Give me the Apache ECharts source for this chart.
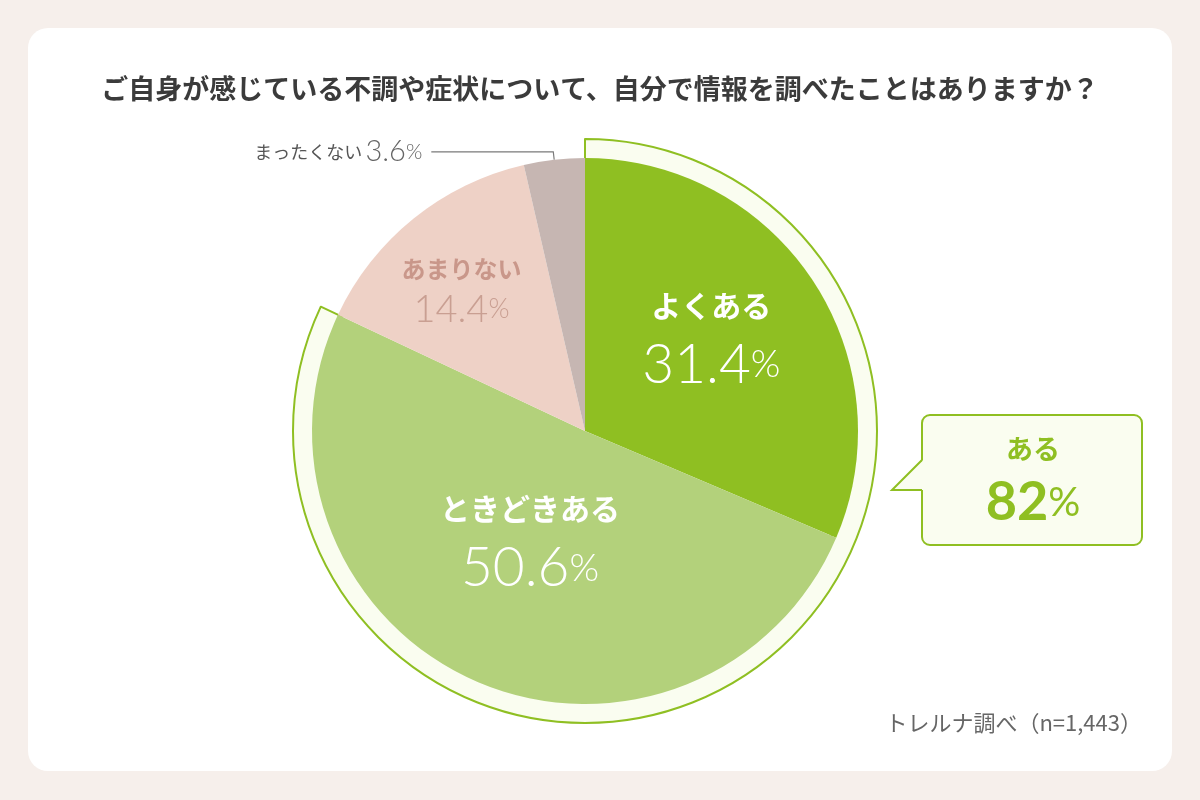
<!DOCTYPE html>
<html>
<head>
<meta charset="utf-8">
<title>情報を調べたことはありますか</title>
<script src="https://cdn.jsdelivr.net/npm/echarts@6/dist/echarts.min.js"></script>
<style>
  html, body { margin: 0; padding: 0; background: #f6efeb; }
  #chart { width: 1200px; height: 800px; }
</style>
</head>
<body>
<div id="chart"></div>
<script>
// 設問・データ
var questionText = 'ご自身が感じている不調や症状について、自分で情報を調べたことはありますか？';
var categories = ['よくある', 'ときどきある', 'あまりない', 'まったくない'];
var shares = [31.4, 50.6, 14.4, 3.6];
var haveIndexes = [0, 1];           // 「ある」にまとめる回答
var haveLabel = 'ある';
var sourceNote = 'トレルナ調べ（n=1,443）';

var sliceColors = ['#8fbf22', '#b3d17b', '#eed1c6', '#c6b6b2'];
var green = '#8fbf22';
var paleGreen = '#fafdf0';
var cjk = '"Noto Sans CJK JP", "Noto Sans", sans-serif';
var numFont = 'Lato, "Noto Sans", sans-serif';

var center = [585, 431];
var pieR = 273;

// ラベルの微調整 (dx, dy)
var labelNudge = [[10, -21], [2, -22], [-36, -35], [0, 0]];

var haveTotal = 0;
haveIndexes.forEach(function (i) { haveTotal += shares[i]; });
haveTotal = Math.round(haveTotal * 10) / 10;

var pieData = categories.map(function (name, i) {
    var item = { name: name, value: shares[i], itemStyle: { color: sliceColors[i] } };
    if (i === 2) {
        item.label = {
            rich: {
                n: { fontFamily: cjk, fontSize: 24, fontWeight: 'bold', color: '#c9978a', lineHeight: 44, align: 'center' },
                v: { fontFamily: numFont, fontSize: 38, fontWeight: 300, color: '#c99f92' },
                p: { fontFamily: numFont, fontSize: 27, fontWeight: 300, color: '#c99f92' }
            }
        };
    }
    if (i === 3) {
        item.label = {
            position: 'outside',
            distanceToLabelLine: 9,
            fontWeight: 'normal',
            formatter: function (p) { return '{n|' + p.name + '} {v|' + p.value + '}{p|%}'; },
            rich: {
                n: { fontFamily: cjk, fontSize: 18, fontWeight: 'normal', color: '#555' },
                v: { fontFamily: numFont, fontSize: 29, fontWeight: 300, color: '#666' },
                p: { fontFamily: numFont, fontSize: 21, fontWeight: 300, color: '#666' }
            }
        };
        item.labelLine = { show: true, length: 8, length2: 122, smooth: false,
            lineStyle: { color: '#7a7a7a', width: 1.2 } };
    }
    return item;
});

var chart = echarts.init(document.getElementById('chart'));

chart.setOption({
    backgroundColor: '#f6efeb',
    animation: false,
    title: [{
        text: questionText,
        left: 'center',
        top: 75,
        padding: 0,
        textStyle: { fontFamily: cjk, fontSize: 27, fontWeight: 'bold', color: '#3b3b3b' }
    }, {
        text: sourceNote,
        right: 58,
        top: 712,
        padding: 0,
        textStyle: { fontFamily: cjk, fontSize: 22, fontWeight: 'normal', color: '#666' }
    }],
    graphic: [{
        type: 'rect',
        z: -10,
        shape: { x: 28, y: 28, width: 1144, height: 743, r: 20 },
        style: { fill: '#ffffff' }
    }, {
        // 吹き出し
        type: 'rect',
        z: 10,
        shape: { x: 922, y: 415, width: 220, height: 130, r: 8 },
        style: { fill: paleGreen, stroke: green, lineWidth: 2 }
    }, {
        type: 'polygon',
        z: 11,
        shape: { points: [[924, 459], [892, 490], [924, 490]] },
        style: { fill: paleGreen }
    }, {
        type: 'polyline',
        z: 12,
        shape: { points: [[922, 460], [892, 490], [922, 490]] },
        style: { stroke: green, lineWidth: 2, fill: null }
    }, {
        type: 'text',
        z: 13,
        x: 1033,
        y: 476,
        style: {
            text: '{a|' + haveLabel + '}\n{b|' + haveTotal + '}{c|%}',
            align: 'center',
            verticalAlign: 'middle',
            rich: {
                a: { fontFamily: cjk, fontSize: 27, fontWeight: 'bold', fill: green, lineHeight: 54, align: 'center' },
                b: { fontFamily: numFont, fontSize: 54, fontWeight: 'bold', fill: green },
                c: { fontFamily: numFont, fontSize: 40, fontWeight: 'normal', fill: green }
            }
        }
    }],
    series: [{
        // 「ある」をくくる外側の帯
        type: 'pie',
        silent: true,
        center: center,
        radius: [pieR - 5, pieR + 19],
        startAngle: 90,
        clockwise: true,
        label: { show: false },
        labelLine: { show: false },
        data: [
            { value: haveTotal, itemStyle: { color: paleGreen, borderColor: green, borderWidth: 2 } },
            { value: Math.round((100 - haveTotal) * 10) / 10, itemStyle: { color: 'transparent', borderWidth: 0 } }
        ]
    }, {
        type: 'pie',
        silent: true,
        center: center,
        radius: [0, pieR],
        startAngle: 90,
        clockwise: true,
        avoidLabelOverlap: false,
        itemStyle: { borderWidth: 0 },
        label: {
            show: true,
            position: 'inside',
            formatter: function (p) { return '{n|' + p.name + '}\n{v|' + p.value + '}{p|%}'; },
            rich: {
                n: { fontFamily: cjk, fontSize: 30, fontWeight: 'bold', color: '#fff', lineHeight: 64, align: 'center' },
                v: { fontFamily: numFont, fontSize: 55, fontWeight: 300, color: '#fff' },
                p: { fontFamily: numFont, fontSize: 38, fontWeight: 300, color: '#fff' }
            }
        },
        labelLine: { show: false },
        labelLayout: function (params) {
            if (params.dataIndex === 3) return {};
            var n = labelNudge[params.dataIndex];
            return { dx: n[0], dy: n[1] };
        },
        data: pieData
    }]
});
</script>
</body>
</html>
